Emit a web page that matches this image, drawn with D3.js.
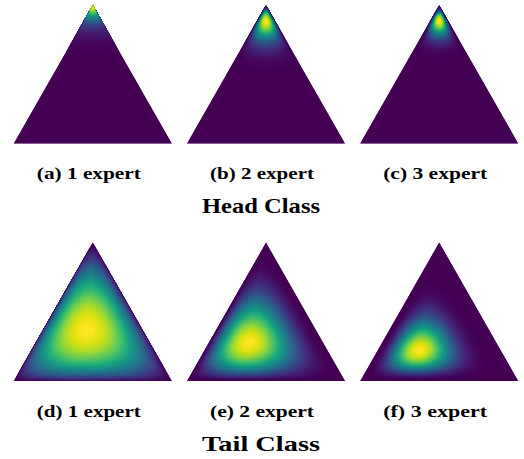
<!DOCTYPE html>
<meta charset="utf-8">
<style>
  body { margin: 0; background: #fff; }
  text { font-family: "Liberation Serif", "DejaVu Serif", serif; font-weight: bold; fill: #000; }
</style>
<script src="https://d3js.org/d3.v7.min.js"></script>
<div id="my_dataviz"></div>
<script>
// panel captions and group titles
const headLabels = ["(a) 1 expert", "(b) 2 expert", "(c) 3 expert"];
const tailLabels = ["(d) 1 expert", "(e) 2 expert", "(f) 3 expert"];
const groupTitles = ["Head Class", "Tail Class"];

// Dirichlet concentration of each panel, [left corner, right corner, top corner]
const headAlpha = [[1.1, 1.1, 15], [2, 2, 16], [2.5, 2.5, 24]];
const tailAlpha = [[1.78, 1.61, 1.81], [3.4, 2.3, 2.4], [6.1, 3.6, 3.2]];

const width = 524, height = 459;
const triW = 158, triH = 138.5;
const rows = [
  {labels: headLabels, alpha: headAlpha, title: groupTitles[0], apexY: 5, labelY: 179, titleY: 213},
  {labels: tailLabels, alpha: tailAlpha, title: groupTitles[1], apexY: 242.5, labelY: 417, titleY: 451}
];

const svg = d3.select("#my_dataviz")
  .append("svg")
  .attr("width", width)
  .attr("height", height);

const defs = svg.append("defs");

// column centres
const col = d3.scalePoint().domain([0, 1, 2]).range([92.8, 439.2]);

const nLevels = 200;
const thresholds = d3.range(0, 1, 1 / nLevels);
const color = d3.scaleSequential(d3.interpolateViridis).domain([0, 1]);

const nx = Math.ceil(triW) + 2, ny = Math.ceil(triH) + 2;

rows.forEach((row, ri) => {
  row.alpha.forEach((a, ci) => {
    const cx = col(ci);
    const x0 = cx - triW / 2 - 1, y0 = row.apexY - 1;
    const baseY = row.apexY + triH;

    // grid -> pixel scales
    const xs = d3.scaleLinear().domain([0, nx]).range([x0, x0 + nx]);
    const ys = d3.scaleLinear().domain([0, ny]).range([y0, y0 + ny]);

    // log density of the Dirichlet on the grid
    const eps = 1e-4;
    const logv = new Float64Array(nx * ny);
    let mx = -Infinity;
    for (let j = 0; j < ny; j++) {
      for (let i = 0; i < nx; i++) {
        const px = xs(i + 0.5), py = ys(j + 0.5);
        const T = (baseY - py) / triH;
        const d = 2 * (px - cx) / triW;
        const R = (1 - T + d) / 2, L = (1 - T - d) / 2;
        const b = [L, R, T].map(v => Math.max(v, eps));
        const s = b[0] + b[1] + b[2];
        let lv = 0;
        for (let k = 0; k < 3; k++) lv += (a[k] - 1) * Math.log(b[k] / s);
        logv[j * nx + i] = lv;
        if (L >= 0 && R >= 0 && T >= 0 && lv > mx) mx = lv;
      }
    }
    const values = Array.from(logv, lv => Math.min(1, Math.exp(lv - mx)));

    const contours = d3.contours().size([nx, ny]).thresholds(thresholds)(values);

    const proj = d3.geoTransform({
      point: function (x, y) { this.stream.point(xs(x), ys(y)); }
    });
    const path = d3.geoPath(proj);

    const tri = [[cx - triW / 2, baseY], [cx + triW / 2, baseY], [cx, row.apexY]];
    const clipId = "clip" + ri + ci;
    defs.append("clipPath").attr("id", clipId)
      .append("path").attr("d", "M" + tri.join("L") + "Z");

    const g = svg.append("g").attr("clip-path", "url(#" + clipId + ")");
    g.append("path")
      .attr("d", "M" + tri.join("L") + "Z")
      .attr("fill", color(0));
    g.selectAll("path.level")
      .data(contours)
      .enter()
      .append("path")
      .attr("class", "level")
      .attr("d", path)
      .attr("fill", d => color(Math.min(1, d.value + 0.5 / nLevels)))
      .attr("stroke", d => color(Math.min(1, d.value + 0.5 / nLevels)))
      .attr("stroke-width", 0.3);

    svg.append("text")
      .attr("x", cx - 4)
      .attr("y", row.labelY)
      .attr("text-anchor", "middle")
      .attr("textLength", 104)
      .attr("lengthAdjust", "spacingAndGlyphs")
      .style("font-size", "17px")
      .text(row.labels[ci]);
  });

  svg.append("text")
    .attr("x", 261)
    .attr("y", row.titleY)
    .attr("text-anchor", "middle")
    .attr("textLength", 118)
    .attr("lengthAdjust", "spacingAndGlyphs")
    .style("font-size", "21px")
    .text(row.title);
});
</script>
